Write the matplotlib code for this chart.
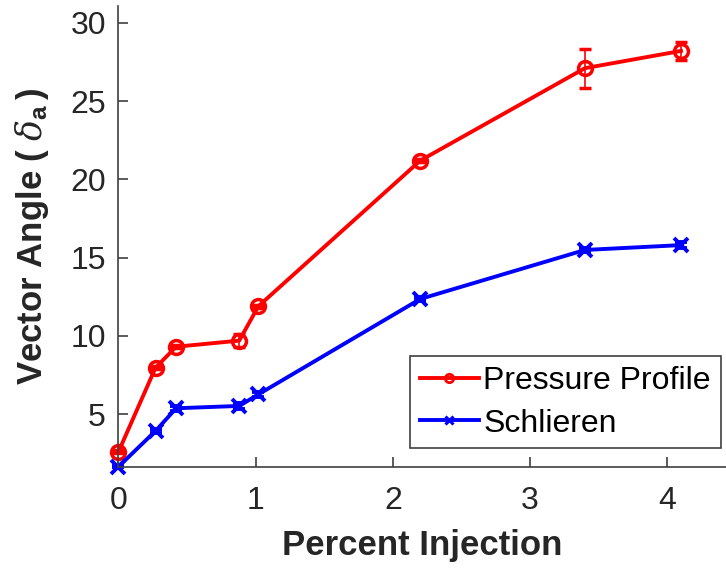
import matplotlib
matplotlib.use("Agg")
from matplotlib import pyplot as plt
from matplotlib.lines import Line2D

plt.rcParams["font.family"] = ["Liberation Sans", "DejaVu Sans"]
plt.rcParams["mathtext.fontset"] = "custom"
plt.rcParams["mathtext.it"] = "DejaVu Serif:italic"
plt.rcParams["mathtext.bf"] = "Liberation Sans:bold"

# percent injection and measured vector angles
injection = [0.0, 0.27, 0.42, 0.88, 1.02, 2.2, 3.4, 4.1]
pressure = [2.6, 7.97, 9.31, 9.7, 11.9, 21.2, 27.1, 28.2]
pressure_err = [0.1, 0.1, 0.1, 0.4, 0.1, 0.1, 1.25, 0.55]
schlieren = [1.65, 3.93, 5.38, 5.53, 6.27, 12.36, 15.49, 15.8]
schlieren_err = [0.05, 0.15, 0.15, 0.2, 0.15, 0.1, 0.15, 0.2]

xticks = [0, 1, 2, 3, 4]
yticks = [5, 10, 15, 20, 25, 30]

axis_grey = "#404040"

fig = plt.figure(figsize=(7.26, 5.71), dpi=100)
ax = fig.add_axes([0.1632, 0.1827, 0.8368, 0.8068])

ax.errorbar(injection, pressure, yerr=pressure_err, color="red", lw=2.8,
            marker="o", ms=10, mew=2.5, mfc="none", elinewidth=1.2,
            capsize=4.3, capthick=1.2, clip_on=False)
ax.errorbar(injection, schlieren, yerr=schlieren_err, color="blue", lw=2.8,
            marker="x", ms=10, mew=2.8, elinewidth=1.2,
            capsize=4.3, capthick=1.2, clip_on=False)

ax.set_xlim(0, 4.428)
ax.set_ylim(1.65, 31.07)
ax.set_xticks(xticks)
ax.set_yticks(yticks)

for side in ("top", "right"):
    ax.spines[side].set_visible(False)
for side in ("left", "bottom"):
    ax.spines[side].set_color(axis_grey)
    ax.spines[side].set_linewidth(1.2)

ax.tick_params(direction="in", length=7, width=1.2, color=axis_grey,
               labelcolor="#262626", labelsize=23)
ax.tick_params(axis="x", pad=14)
ax.tick_params(axis="y", pad=9)

ax.set_xlabel("Percent Injection", fontsize=25, fontweight="bold",
              color="#262626", labelpad=9)
ax.set_ylabel(r"Vector Angle ($\;\delta_{\mathbf{a}}\,$)", fontsize=25,
              fontweight="bold", color="#262626", labelpad=14)

handles = [
    Line2D([], [], color="red", lw=2.8, marker="o", ms=6, mew=2, mfc="none"),
    Line2D([], [], color="blue", lw=2.8, marker="x", ms=6, mew=2.2),
]
leg = ax.legend(handles, ["Pressure Profile", "Schlieren"], loc="lower right",
                bbox_to_anchor=(0.991, 0.04), fontsize=23, handlelength=1.85,
                handletextpad=0.15, labelspacing=0.4, borderpad=0.3,
                borderaxespad=0, fancybox=False, framealpha=1)
leg.get_frame().set_edgecolor(axis_grey)
leg.get_frame().set_linewidth(1.2)

fig.savefig("out.png", dpi=100)
